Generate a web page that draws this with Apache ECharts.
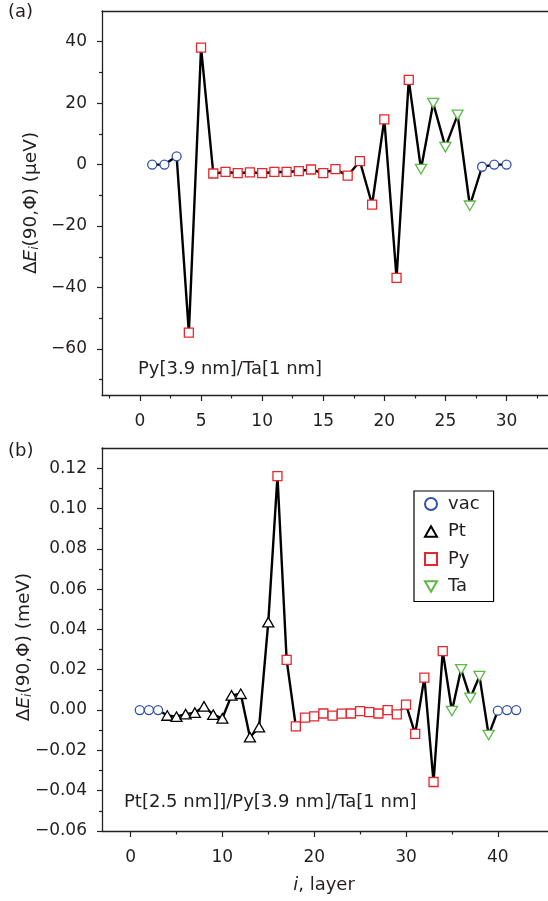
<!DOCTYPE html>
<html><head><meta charset="utf-8">
<script src="https://cdn.jsdelivr.net/npm/echarts@6/dist/echarts.min.js"></script>
<style>html,body{margin:0;padding:0;background:#fff}#c{width:548px;height:901px}</style>
</head><body><div id="c"></div>
<script>
// ---- Panel (a): Py[3.9 nm]/Ta[1 nm] (µeV) ----
const layersA = [1,2,3,4,5,6,7,8,9,10,11,12,13,14,15,16,17,18,19,20,21,22,23,24,25,26,27,28,29,30];
const valuesA = [0,0,2.7,-54.7,38.1,-2.9,-2.4,-2.8,-2.5,-2.8,-2.4,-2.4,-2.1,-1.6,-2.8,-1.5,-3.6,1.1,-13.0,14.7,-36.9,27.6,-1.5,20.0,5.7,16.2,-13.4,-0.7,0,0];
const typesA  = ['vac','vac','vac','Py','Py','Py','Py','Py','Py','Py','Py','Py','Py','Py','Py','Py','Py','Py','Py','Py','Py','Py','Ta','Ta','Ta','Ta','Ta','vac','vac','vac'];
const xTicksA = [0,5,10,15,20,25,30];
const xMinorA = [-2.5,2.5,7.5,12.5,17.5,22.5,27.5,32.5];
const yTicksA = [-60,-40,-20,0,20,40];
const yMinorA = [-70,-50,-30,-10,10,30];

// ---- Panel (b): Pt[2.5 nm]/Py[3.9 nm]/Ta[1 nm] (meV) ----
const layersB = [1,2,3,4,5,6,7,8,9,10,11,12,13,14,15,16,17,18,19,20,21,22,23,24,25,26,27,28,29,30,31,32,33,34,35,36,37,38,39,40,41,42];
const valuesB = [0,0,0,-0.0027,-0.0033,-0.0020,-0.0013,0.0018,-0.0023,-0.0041,0.0073,0.0081,-0.0134,-0.0085,0.0436,0.1160,0.0249,-0.0081,-0.0038,-0.0031,-0.0017,-0.0028,-0.0018,-0.0017,-0.0005,-0.0010,-0.0017,0.0000,-0.0021,0.0027,-0.0118,0.0161,-0.0357,0.0292,-0.0005,0.0202,0.0060,0.0168,-0.0124,-0.0003,0,0];
const typesB  = ['vac','vac','vac','Pt','Pt','Pt','Pt','Pt','Pt','Pt','Pt','Pt','Pt','Pt','Pt','Py','Py','Py','Py','Py','Py','Py','Py','Py','Py','Py','Py','Py','Py','Py','Py','Py','Py','Py','Ta','Ta','Ta','Ta','Ta','vac','vac','vac'];
const xTicksB = [0,10,20,30,40];
const xMinorB = [5,15,25,35];
const yTicksB = [-0.06,-0.04,-0.02,0,0.02,0.04,0.06,0.08,0.10,0.12];
const yMinorB = [-0.05,-0.03,-0.01,0.01,0.03,0.05,0.07,0.09,0.11];

const legendNames = ['vac','Pt','Py','Ta'];

const FONT = 'DejaVu Sans, Liberation Sans, Arial, sans-serif';
const TXT = '#231f20';
const UP_TRI = 'path://M5,0 L10,8.66 L0,8.66 Z';
const DOWN_TRI = 'path://M0,0 L10,0 L5,8.66 Z';
const styles = {
  vac: {symbol:'circle', size:9, color:'#3552a8'},
  Pt:  {symbol:UP_TRI, size:11, color:'#000000'},
  Py:  {symbol:'rect', size:9, color:'#e8262e'},
  Ta:  {symbol:DOWN_TRI, size:11, color:'#5cb848'}
};
const minusFmt = (v, dec) => {
  const s = dec ? Math.abs(v).toFixed(dec) : String(Math.abs(v));
  return (v < -1e-12 ? '\u2212' : '') + s;
};

function xAxes(grid, min, max, major, minor) {
  return [
    {type:'value', gridIndex:grid, min, max, position:'bottom',
     axisLine:{show:true, onZero:false, lineStyle:{color:'#222', width:1.3}},
     axisTick:{show:true, inside:false, length:6, customValues:major, lineStyle:{color:'#222', width:1.2}},
     axisLabel:{show:true, customValues:major, margin:18, fontSize:17, fontFamily:FONT, color:TXT, formatter:v=>minusFmt(v)},
     splitLine:{show:false}},
    {type:'value', gridIndex:grid, min, max, position:'bottom',
     axisLine:{show:false, onZero:false},
     axisTick:{show:true, inside:false, length:3.5, customValues:minor, lineStyle:{color:'#222', width:1.2}},
     axisLabel:{show:false}, splitLine:{show:false}},
    {type:'value', gridIndex:grid, min, max, position:'top',
     axisLine:{show:true, onZero:false, lineStyle:{color:'#222', width:1.3}},
     axisTick:{show:false}, axisLabel:{show:false}, splitLine:{show:false}}
  ];
}
function yAxes(grid, min, max, major, minor, dec) {
  return [
    {type:'value', gridIndex:grid, min, max, position:'left',
     axisLine:{show:true, onZero:false, lineStyle:{color:'#222', width:1.3}},
     axisTick:{show:true, inside:false, length:5, customValues:major, lineStyle:{color:'#222', width:1.2}},
     axisLabel:{show:true, customValues:major, margin:15, fontSize:17, fontFamily:FONT, color:TXT, formatter:v=>minusFmt(v, dec)},
     splitLine:{show:false}},
    {type:'value', gridIndex:grid, min, max, position:'left',
     axisLine:{show:false, onZero:false},
     axisTick:{show:true, inside:false, length:3, customValues:minor, lineStyle:{color:'#222', width:1.2}},
     axisLabel:{show:false}, splitLine:{show:false}}
  ];
}

function panelSeries(xi, yi, layers, values, types, prefix) {
  const out = [{
    type:'line', name:prefix+'line', xAxisIndex:xi, yAxisIndex:yi,
    data: layers.map((x,i)=>[x, values[i]]),
    showSymbol:false, symbol:'none', lineStyle:{color:'#000', width:2.4}, z:2, silent:true, animation:false
  }];
  legendNames.forEach(t => {
    const st = styles[t];
    const d = [];
    layers.forEach((x,i)=>{ if (types[i]===t) d.push([x, values[i]]); });
    if (!d.length) return;
    out.push({
      type:'scatter', name: prefix + t, xAxisIndex:xi, yAxisIndex:yi, data:d,
      symbol:st.symbol, symbolSize:st.size, symbolKeepAspect:true,
      itemStyle:{color:'#ffffff', borderColor:st.color, borderWidth:1.3, opacity:1},
      z:3, animation:false
    });
  });
  return out;
}

const chart = echarts.init(document.getElementById('c'), null, {renderer:'canvas'});
const option = {
  backgroundColor:'#fff',
  animation:false,
  grid:[
    {left:102, top:11, width:460, height:384, containLabel:false},
    {left:102, top:448, width:460, height:383, containLabel:false}
  ],
  xAxis: [].concat(
    xAxes(0, -3.11, -3.11 + 460/12.6, xTicksA, xMinorA),
    xAxes(1, -3.11, -3.11 + 460/9.47, xTicksB, xMinorB)
  ),
  yAxis: [].concat(
    yAxes(0, -75, 50, yTicksA, yMinorA, 0),
    yAxes(1, -0.06, 0.13, yTicksB, yMinorB, 2)
  ),
  legend:{
    data: legendNames.map(n=>({name:'b'+n, icon:styles[n].symbol})),
    orient:'vertical', left:414, top:491,
    borderColor:'#000', borderWidth:1.2, borderRadius:0,
    padding:[4,14,6,10], itemGap:9.5, itemWidth:12, itemHeight:12,
    selectedMode:false,
    formatter: n => n.slice(1),
    textStyle:{fontSize:18, fontFamily:FONT, color:TXT, padding:[0,0,0,6]}
  },
  series: [].concat(
    panelSeries(0, 0, layersA, valuesA, typesA, 'a'),
    panelSeries(3, 2, layersB, valuesB, typesB, 'b')
  ),
  graphic:[
    {type:'text', x:8, y:12.5, style:{text:'(a)', fontSize:18, fontFamily:FONT, fill:TXT, verticalAlign:'middle'}},
    {type:'text', x:8, y:451, style:{text:'(b)', fontSize:18, fontFamily:FONT, fill:TXT, verticalAlign:'middle'}},
    {type:'text', x:138, y:369, style:{text:'Py[3.9 nm]/Ta[1 nm]', fontSize:18, fontFamily:FONT, fill:TXT, verticalAlign:'middle'}},
    {type:'text', x:124, y:802, style:{text:'Pt[2.5 nm]]/Py[3.9 nm]/Ta[1 nm]', fontSize:18, fontFamily:FONT, fill:TXT, verticalAlign:'middle'}},
    {type:'text', x:31, y:203, rotation:Math.PI/2, style:{
      text:'{n|\u0394}{it|E}{sub|i}{n|(90,\u03a6) (\u03bceV)}', align:'center', verticalAlign:'middle',
      rich:{n:{fontSize:18.5, fontFamily:FONT, fill:TXT}, it:{fontSize:18.5, fontFamily:FONT, fontStyle:'italic', fill:TXT},
            sub:{fontSize:12, fontFamily:FONT, fontStyle:'italic', fill:TXT, verticalAlign:'bottom', padding:[8,0,0,0]}}}},
    {type:'text', x:24, y:647, rotation:Math.PI/2, style:{
      text:'{n|\u0394}{it|E}{sub|i}{n|(90,\u03a6) (meV)}', align:'center', verticalAlign:'middle',
      rich:{n:{fontSize:18.5, fontFamily:FONT, fill:TXT}, it:{fontSize:18.5, fontFamily:FONT, fontStyle:'italic', fill:TXT},
            sub:{fontSize:12, fontFamily:FONT, fontStyle:'italic', fill:TXT, verticalAlign:'bottom', padding:[8,0,0,0]}}}},
    {type:'text', x:324, y:885, style:{
      text:'{it|i}{n|, layer}', align:'center', verticalAlign:'middle',
      rich:{n:{fontSize:18, fontFamily:FONT, fill:TXT}, it:{fontSize:18, fontFamily:FONT, fontStyle:'italic', fill:TXT}}}}
  ]
};
chart.setOption(option);
</script>
</body></html>
